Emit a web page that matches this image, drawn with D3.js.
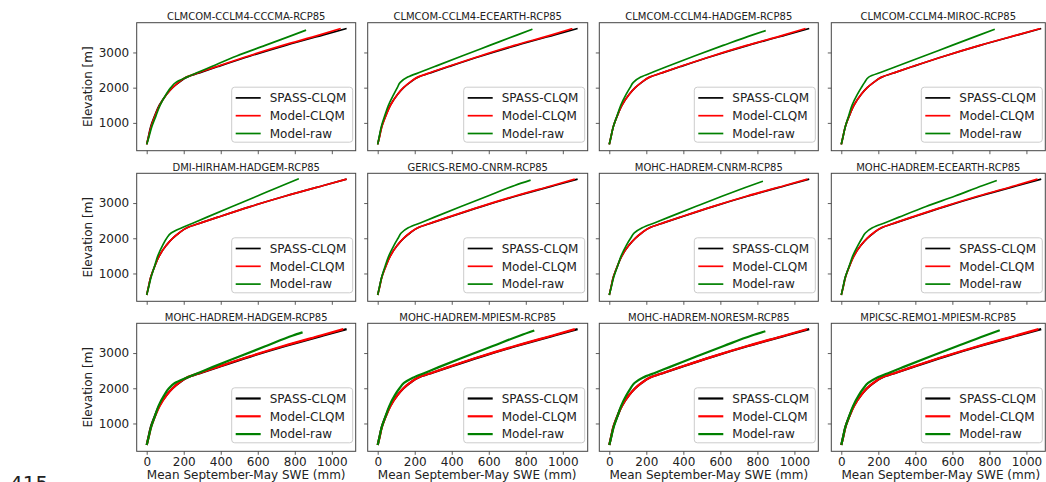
<!DOCTYPE html>
<html>
<head>
<meta charset="utf-8">
<script src="https://cdn.jsdelivr.net/npm/d3@7"></script>
<style>
  body { margin: 0; background: #fff; }
  text { font-family: "DejaVu Sans", sans-serif; }
</style>
</head>
<body>
<div class="chart"></div>
<script>
// SWE profiles by elevation, 12 RCM runs

const panelTitles = [
  'CLMCOM-CCLM4-CCCMA-RCP85', 'CLMCOM-CCLM4-ECEARTH-RCP85', 'CLMCOM-CCLM4-HADGEM-RCP85', 'CLMCOM-CCLM4-MIROC-RCP85',
  'DMI-HIRHAM-HADGEM-RCP85', 'GERICS-REMO-CNRM-RCP85', 'MOHC-HADREM-CNRM-RCP85', 'MOHC-HADREM-ECEARTH-RCP85',
  'MOHC-HADREM-HADGEM-RCP85', 'MOHC-HADREM-MPIESM-RCP85', 'MOHC-HADREM-NORESM-RCP85', 'MPICSC-REMO1-MPIESM-RCP85'
];

// elevation bands [m]
const elevation = [390, 600, 900, 1200, 1500, 1800, 2000, 2150, 2300, 2450, 2600, 2900, 3200, 3500, 3680];

// SPASS-CLQM mean SWE [mm] (same reference in every panel)
const spassSWE = [0, 9, 22, 43, 68, 106, 140, 175, 218, 300, 385, 560, 750, 955, 1080];

// Model-CLQM mean SWE [mm], one row per panel
const modelClqmSWE = [
  [0, 10, 24, 45, 70, 106, 139, 172, 214, 294, 378, 550, 735, 935, 1048],
  [0, 10, 23, 44, 69, 106, 139, 173, 216, 296, 380, 553, 738, 940, 1052],
  [0, 9, 22, 43, 68, 106, 140, 174, 217, 298, 382, 556, 742, 945, 1060],
  [0, 9, 22, 43, 68, 106, 140, 175, 218, 300, 384, 559, 748, 952, 1075],
  [0, 9, 22, 43, 68, 106, 140, 175, 218, 300, 385, 560, 750, 955, 1080],
  [0, 10, 23, 44, 69, 106, 139, 173, 216, 297, 381, 555, 742, 945, 1065],
  [0, 9, 22, 43, 68, 106, 140, 174, 217, 298, 383, 557, 745, 948, 1070],
  [0, 10, 23, 44, 69, 106, 139, 173, 216, 296, 380, 554, 740, 942, 1060],
  [0, 10, 24, 45, 70, 107, 140, 173, 215, 295, 380, 553, 738, 940, 1062],
  [0, 10, 23, 44, 69, 106, 139, 173, 216, 297, 381, 555, 742, 945, 1065],
  [0, 9, 22, 43, 68, 106, 140, 174, 217, 298, 383, 557, 745, 948, 1068],
  [0, 10, 23, 44, 69, 106, 139, 173, 216, 297, 381, 555, 742, 945, 1065]
];

// Model-raw: top elevation band of each model, then SWE [mm] per band
const rawTopElevation = [3633, 3660, 3620, 3659, 3690, 3650, 3620, 3640, 3590, 3640, 3620, 3650];
const modelRawSWE = [
  [0, 12, 28, 50, 72, 104, 130, 158, 216, 284, 351, 486, 640, 793, 861],
  [0, 8, 20, 38, 58, 86, 106, 122, 162, 235, 308, 455, 605, 755, 836],
  [0, 9, 22, 42, 62, 90, 112, 130, 170, 240, 312, 460, 615, 775, 845],
  [0, 9, 22, 40, 58, 86, 108, 126, 148, 222, 297, 447, 598, 748, 829],
  [0, 10, 24, 42, 60, 86, 108, 132, 190, 258, 326, 462, 598, 733, 822],
  [0, 9, 22, 40, 60, 88, 110, 127, 165, 236, 307, 450, 595, 740, 826],
  [0, 10, 24, 44, 64, 92, 115, 135, 178, 250, 322, 466, 612, 765, 830],
  [0, 9, 22, 42, 62, 90, 112, 130, 168, 240, 312, 458, 615, 765, 840],
  [0, 10, 24, 44, 64, 94, 120, 152, 215, 285, 355, 500, 645, 790, 842],
  [0, 9, 22, 42, 63, 92, 118, 142, 190, 260, 330, 475, 622, 770, 846],
  [0, 10, 24, 44, 64, 92, 115, 136, 180, 252, 325, 470, 618, 770, 843],
  [0, 9, 22, 42, 64, 94, 120, 145, 192, 262, 334, 480, 628, 778, 856]
];

const xTicks = [0, 200, 400, 600, 800, 1000];
const yTicks = [1000, 2000, 3000];
const seriesNames = ['SPASS-CLQM', 'Model-CLQM', 'Model-raw'];
const seriesColors = ['#000000', '#ff0000', '#008000'];

// layout
const width = 1046, height = 482;
const colLeft = [136.7, 367.7, 599.3, 831.3];
const colWidth = [219, 220, 219, 214];
const rowTop = [22.7, 173.3, 323.3];
const panelH = 128;

const svg = d3.select(".chart").append("svg")
  .attr("width", width)
  .attr("height", height);

svg.append("rect").attr("width", width).attr("height", height).attr("fill", "#fff");

const xScale = d3.scaleLinear().domain([-54, 1129]).range([0, 219]);
const yScale = d3.scaleLinear().domain([210, 3845]).range([panelH, 0]);

const line = d3.line()
  .x(d => xScale(d[0]))
  .y(d => yScale(d[1]))
  .curve(d3.curveMonotoneY);

panelTitles.forEach((title, i) => {
  const col = i % 4, row = Math.floor(i / 4);
  const w = colWidth[col];
  const lw = row === 2 ? 2.2 : 1.7;
  const g = svg.append("g")
    .attr("transform", "translate(" + colLeft[col] + "," + rowTop[row] + ")");

  // axes
  const xAxis = d3.axisBottom(xScale).tickValues(xTicks).tickSizeInner(3.5).tickSizeOuter(0)
    .tickFormat(row === 2 ? d3.format("d") : "");
  const gx = g.append("g").attr("transform", "translate(0," + panelH + ")").call(xAxis);
  gx.select(".domain").remove();
  gx.selectAll("line").attr("stroke", "#333").attr("stroke-width", 0.8);
  gx.selectAll("text").attr("font-size", 12).attr("fill", "#222")
    .attr("font-family", "DejaVu Sans").attr("y", 6).attr("dy", "0.71em");

  const yAxis = d3.axisLeft(yScale).tickValues(yTicks).tickSizeInner(3.5).tickSizeOuter(0)
    .tickFormat(col === 0 ? d3.format("d") : "");
  const gy = g.append("g").call(yAxis);
  gy.select(".domain").remove();
  gy.selectAll("line").attr("stroke", "#333").attr("stroke-width", 0.8);
  gy.selectAll("text").attr("font-size", 12).attr("fill", "#222")
    .attr("font-family", "DejaVu Sans").attr("x", -7.5);

  // clip to frame
  const clipId = "clip" + i;
  g.append("clipPath").attr("id", clipId)
    .append("rect").attr("width", w).attr("height", panelH);

  const plot = g.append("g").attr("clip-path", "url(#" + clipId + ")");

  const blackPts = elevation.map((e, k) => [spassSWE[k], e]);
  const redPts = elevation.map((e, k) => [modelClqmSWE[i][k], e]);
  const rawElev = elevation.slice(0, -1).concat([rawTopElevation[i]]);
  const greenPts = rawElev.map((e, k) => [modelRawSWE[i][k], e]);

  [blackPts, redPts, greenPts].forEach((pts, s) => {
    plot.append("path")
      .datum(pts)
      .attr("d", line)
      .attr("fill", "none")
      .attr("stroke", seriesColors[s])
      .attr("stroke-width", lw)
      .attr("stroke-linejoin", "round");
  });

  // frame
  g.append("rect")
    .attr("width", w).attr("height", panelH)
    .attr("fill", "none").attr("stroke", "#444").attr("stroke-width", 1);

  // title
  g.append("text")
    .attr("x", w / 2).attr("y", -2.5)
    .attr("text-anchor", "middle")
    .attr("font-size", 10).attr("fill", "#222")
    .text(title);

  // legend
  const lgW = 121, lgH = 55;
  const lg = g.append("g").attr("transform", "translate(" + (w - 3 - lgW) + "," + (panelH - 8.5 - lgH) + ")");
  lg.append("rect").attr("width", lgW).attr("height", lgH).attr("rx", 3)
    .attr("fill", "#fff").attr("fill-opacity", 0.85)
    .attr("stroke", "#cccccc").attr("stroke-width", 1);
  seriesNames.forEach((name, s) => {
    const cy = 10.7 + s * 17.8;
    lg.append("line").attr("x1", 4).attr("x2", 29).attr("y1", cy).attr("y2", cy)
      .attr("stroke", seriesColors[s]).attr("stroke-width", lw);
    lg.append("text").attr("x", 38).attr("y", cy).attr("dy", "0.36em")
      .attr("font-size", 12).attr("fill", "#222").text(name);
  });

  // axis labels
  if (col === 0) {
    g.append("text")
      .attr("transform", "translate(-45," + (panelH / 2) + ") rotate(-90)")
      .attr("text-anchor", "middle")
      .attr("font-size", 12).attr("fill", "#222")
      .text("Elevation [m]");
  }
  if (row === 2) {
    g.append("text")
      .attr("x", 109.5).attr("y", panelH + 27.5)
      .attr("text-anchor", "middle")
      .attr("font-size", 12).attr("fill", "#222")
      .text("Mean September-May SWE (mm)");
  }
});

// page number from the source document
svg.append("text")
  .attr("x", 10).attr("y", 490)
  .attr("font-family", "Liberation Sans, Arial, sans-serif")
  .attr("font-size", 20).attr("fill", "#222")
  .text("415");
</script>
</body>
</html>
